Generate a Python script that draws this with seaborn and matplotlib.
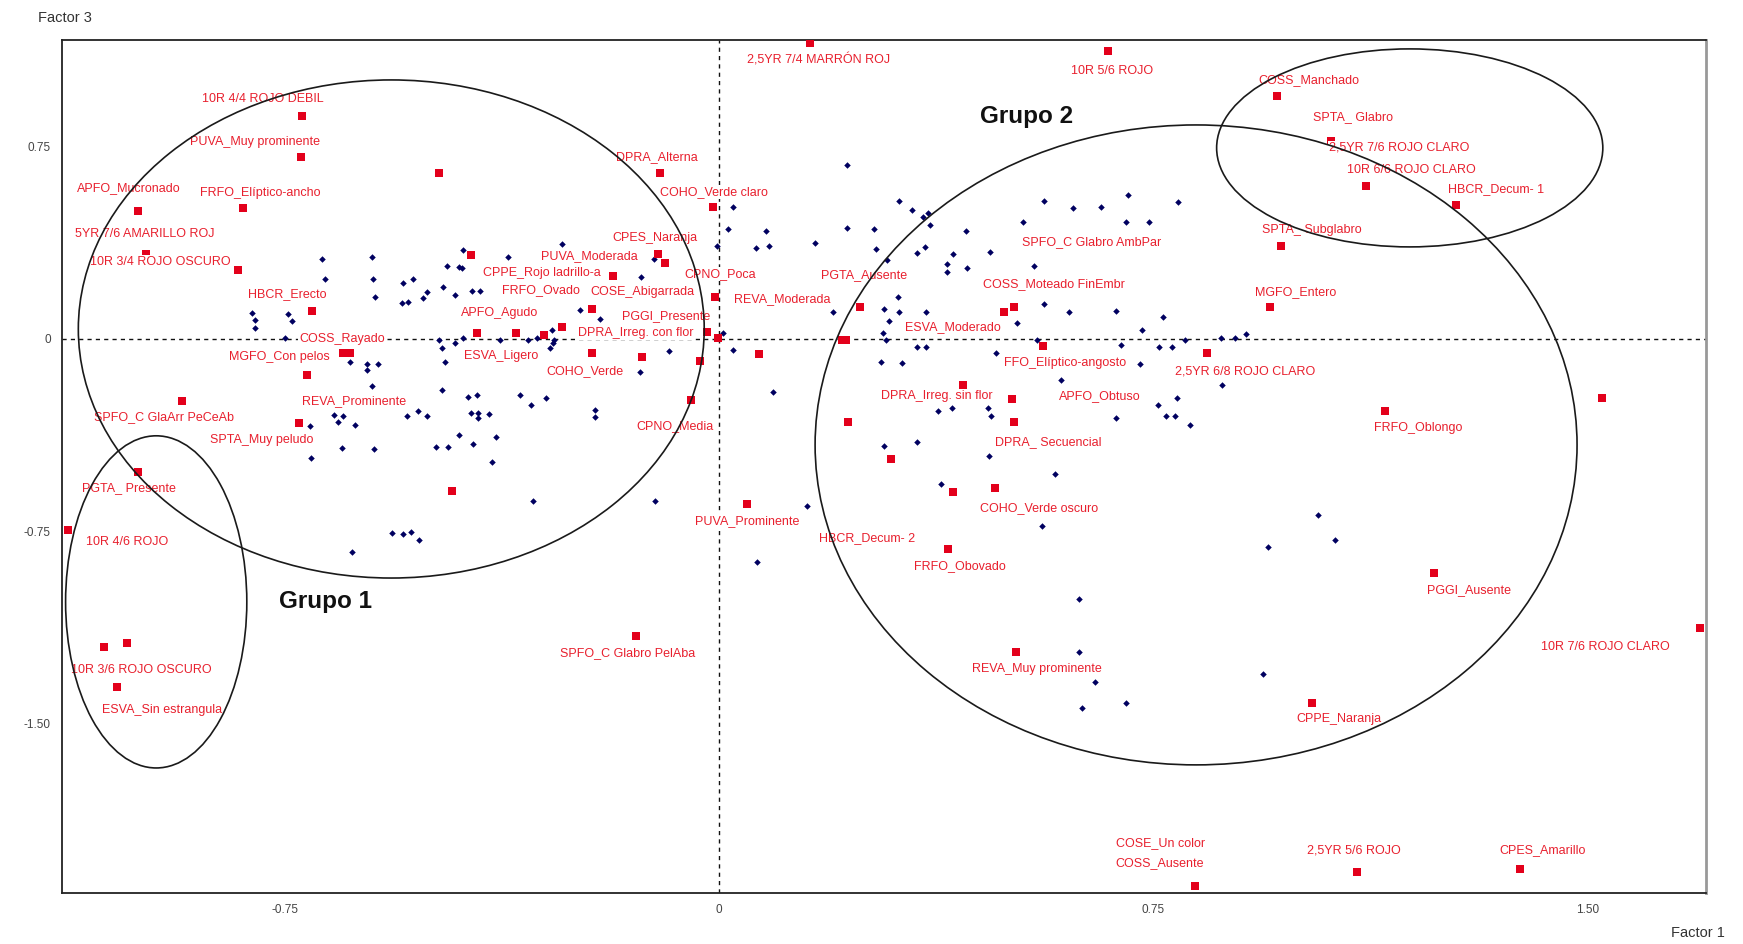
import numpy as np
import pandas as pd
import matplotlib
matplotlib.use("Agg")
import matplotlib.pyplot as plt
from matplotlib.patches import Ellipse
import seaborn as sns

# Individuals: coordinates on factor 1 (x) and factor 3 (y)
ind_f1 = [-0.686, -0.680, -0.599, -0.598, -0.594, -0.470, -0.477, -0.546, -0.528, -0.547,
          -0.537, -0.511, -0.504, -0.807, -0.801, -0.801, -0.744, -0.737, -0.750, -0.484,
          -0.271, -0.442, -0.364, -0.449, -0.444, -0.456, -0.427, -0.413, -0.240, -0.206,
          -0.112, -0.135, 0.024, 0.016, 0.081, -0.003, 0.064, 0.086, 0.166, 0.221,
          0.221, 0.197, -0.288, -0.285, -0.456, -0.442, -0.378, -0.330, -0.314, 0.007,
          0.311, 0.333, 0.352, 0.361, 0.364, 0.268, 0.427, 0.271, 0.356, 0.342,
          0.404, 0.468, 0.561, 0.611, 0.660, 0.706, 0.793, 0.525, 0.703, 0.743,
          0.394, 0.394, 0.428, 0.544, 0.290, 0.309, 0.285, 0.311, 0.357, 0.294,
          0.283, 0.288, 0.515, 0.561, 0.604, 0.686, 0.767, 0.731, 0.805, 0.867,
          0.891, 0.910, 0.549, 0.342, 0.357, 0.694, 0.760, 0.782, 0.280, 0.316,
          0.478, 0.727, 0.591, 0.791, 0.869, 0.758, 0.772, 0.788, 0.813, 0.686,
          0.378, 0.402, 0.465, 0.470, 0.285, 0.342, 0.466, 0.580, 0.383, 0.558,
          0.622, 0.152, 1.035, 0.948, 1.064, 0.622, 0.649, 0.627, 0.703, 0.940,
          -0.478, -0.473, -0.287, -0.292, -0.086, -0.136, 0.024, 0.093, -0.478, -0.433,
          -0.418, -0.344, -0.299, -0.325, -0.520, -0.539, -0.504, -0.428, -0.416, -0.416,
          -0.397, -0.214, -0.214, -0.449, -0.385, -0.489, -0.468, -0.425, -0.392, -0.321,
          -0.111, 0.066, -0.546, -0.532, -0.518, -0.637, -0.608, -0.589, -0.608, -0.599,
          -0.665, -0.658, -0.649, -0.629, -0.706, -0.651, -0.596, -0.705, -0.565, -0.634]
ind_f3 = [0.312, 0.234, 0.320, 0.234, 0.164, 0.285, 0.203, 0.218, 0.234, 0.140,
          0.144, 0.160, 0.183, 0.101, 0.074, 0.043, 0.097, 0.070, 0.004, -0.004,
          0.370, 0.347, 0.320, 0.281, 0.277, 0.172, 0.187, 0.187, 0.113, 0.078,
          0.312, 0.242, 0.515, 0.429, 0.421, 0.363, 0.355, 0.363, 0.374, 0.678,
          0.433, 0.105, 0.035, -0.004, -0.016, 0.004, -0.004, -0.004, 0.004, 0.023,
          0.538, 0.503, 0.476, 0.491, 0.444, 0.429, 0.421, 0.351, 0.359, 0.335,
          0.331, 0.339, 0.538, 0.511, 0.515, 0.561, 0.534, 0.456, 0.456, 0.456,
          0.292, 0.261, 0.277, 0.285, 0.308, 0.164, 0.117, 0.105, 0.105, 0.070,
          0.023, -0.004, 0.062, 0.136, 0.105, 0.109, 0.086, 0.035, -0.004, 0.004,
          0.004, 0.019, -0.004, -0.031, -0.031, -0.023, -0.031, -0.031, -0.090, -0.094,
          -0.055, -0.097, -0.160, -0.230, -0.179, -0.257, -0.300, -0.300, -0.335, -0.308,
          -0.281, -0.269, -0.269, -0.300, -0.417, -0.402, -0.456, -0.526, -0.565, -0.729,
          -1.014, -0.651, -0.686, -0.811, -0.784, -1.220, -1.337, -1.439, -1.419, -1.306,
          -0.035, -0.090, -0.016, -0.035, -0.047, -0.129, -0.043, -0.207, -0.199, -0.226,
          -0.218, -0.218, -0.230, -0.257, -0.281, -0.300, -0.300, -0.289, -0.289, -0.308,
          -0.292, -0.277, -0.304, -0.374, -0.382, -0.421, -0.421, -0.409, -0.480, -0.632,
          -0.632, -0.869, -0.760, -0.753, -0.784, -0.090, -0.097, -0.097, -0.121, -0.183,
          -0.296, -0.324, -0.300, -0.335, -0.339, -0.425, -0.429, -0.464, -0.756, -0.830]

# Modalities (active categories); empty name = unlabelled point
mod_names = ["10R 4/4 ROJO DEBIL", "PUVA_Muy prominente", "", "APFO_Mucronado",
             "FRFO_Elíptico-ancho", "5YR 7/6 AMARILLO ROJ", "10R 3/4 ROJO OSCURO", "HBCR_Erecto",
             "COSS_Rayado", "", "MGFO_Con pelos", "REVA_Prominente",
             "SPTA_Muy peludo", "SPFO_C GlaArr PeCeAb", "PGTA_ Presente", "10R 4/6 ROJO",
             "", "10R 3/6 ROJO OSCURO", "ESVA_Sin estrangula", "2,5YR 7/4 MARRÓN ROJ",
             "DPRA_Alterna", "COHO_Verde claro", "CPES_Naranja", "PUVA_Moderada",
             "CPPE_Rojo ladrillo-a", "CPNO_Poca", "REVA_Moderada", "FRFO_Ovado",
             "COSE_Abigarrada", "APFO_Agudo", "PGGI_Presente", "DPRA_Irreg. con flor",
             "ESVA_Ligero", "COHO_Verde", "CPNO_Media", "PUVA_Prominente",
             "SPFO_C Glabro PelAba", "", "", "",
             "", "", "10R 5/6 ROJO", "PGTA_Ausente",
             "COSS_Moteado FinEmbr", "SPFO_C Glabro AmbPar", "ESVA_Moderado", "",
             "FFO_Elíptico-angosto", "2,5YR 6/8 ROJO CLARO", "DPRA_Irreg. sin flor", "APFO_Obtuso",
             "DPRA_ Secuencial", "", "", "HBCR_Decum- 2",
             "COHO_Verde oscuro", "FRFO_Obovado", "REVA_Muy prominente", "COSS_Ausente",
             "COSE_Un color", "COSS_Manchado", "SPTA_ Glabro", "10R 6/6 ROJO CLARO",
             "2,5YR 7/6 ROJO CLARO", "HBCR_Decum- 1", "SPTA_ Subglabro", "MGFO_Entero",
             "FRFO_Oblongo", "", "PGGI_Ausente", "10R 7/6 ROJO CLARO",
             "CPPE_Naranja", "2,5YR 5/6 ROJO", "CPES_Amarillo"]
mod_f1 = [-0.720, -0.722, -0.484, -1.003, -0.822, -0.990, -0.831, -0.703,
          -0.637, -0.649, -0.712, -0.725, -0.725, -0.927, -1.003, -1.124,
          -1.062, -1.022, -1.040, 0.157, -0.102, -0.010, -0.105, -0.093,
          -0.183, -0.007, -0.002, -0.271, -0.219, -0.418, -0.021, -0.302,
          -0.351, -0.219, -0.048, 0.048, -0.143, -0.428, -0.133, -0.033,
          0.069, -0.461, 0.672, 0.244, 0.492, 0.509, 0.212, 0.219,
          0.560, 0.843, 0.421, 0.506, 0.509, 0.223, 0.297, 0.404,
          0.477, 0.395, 0.513, 0.822, 0.822, 0.964, 1.057, 1.117,
          1.117, 1.273, 0.971, 0.952, 1.150, 1.525, 1.235, 1.694,
          1.024, 1.102, 1.383]
mod_f3 = [0.869, 0.710, 0.647, 0.499, 0.511, 0.331, 0.269, 0.109,
          -0.055, -0.055, -0.140, -0.328, -0.328, -0.242, -0.519, -0.745,
          -1.201, -1.185, -1.357, 1.154, 0.647, 0.515, 0.331, 0.296,
          0.246, 0.164, 0.004, 0.047, 0.117, 0.023, 0.027, 0.016,
          0.023, -0.055, -0.238, -0.643, -1.158, 0.328, -0.070, -0.086,
          -0.058, -0.593, 1.123, 0.125, 0.105, 0.125, -0.004, -0.004,
          -0.027, -0.055, -0.179, -0.234, -0.324, -0.324, -0.468, -0.597,
          -0.581, -0.819, -1.220, -2.133, -2.133, 0.947, 0.772, 0.597,
          0.597, 0.523, 0.363, 0.125, -0.281, -0.230, -0.912, -1.127,
          -1.419, -2.078, -2.067]

# Label placement relative to each square, in pixels (right, down)
lab_dx = [-39, -46, 0, -9, 17, -1, -78, -25, -8, 0, -27, 55, -38, -18, -9, 59,
          0, 14, 45, 9, -3, 1, -3, -76, -71, 5, 64, -21, 50, 23, -41, 92,
          -15, -7, -16, 0, -9, 0, 0, 0, 0, 0, 4, 4, 50, 78, 111, 0,
          22, 38, -26, 88, 35, 0, 0, -86, 44, 12, 21, -35, -34, 32, 22, 46,
          33, 40, 31, 25, 33, 0, 35, -94, 27, -3, 23]
lab_dy = [-17, -15, 0, -23, -15, -20, -8, -17, -14, 0, -18, -22, 17, 16, 16, 12,
          0, 27, 23, 17, -16, -15, -16, -7, -3, -23, -39, -37, -17, -20, -16, -2,
          23, 18, 26, 17, 17, 0, 0, 0, 0, 0, 20, -32, -28, -65, -13, 0,
          17, 18, 11, -3, 20, 0, 0, 46, 20, 17, 17, -23, -43, -16, -24, -16,
          -38, -16, -16, -15, 17, 0, 17, 19, 16, -21, -19]

# Group ellipses: centre (f1, f3), width, height
grp_cx = [-0.566, -0.972, 0.824, 1.193]
grp_cy = [0.039, -1.025, -0.413, 0.745]
grp_w = [1.081, 0.313, 1.316, 0.667]
grp_h = [1.942, 1.295, 2.495, 0.772]

grp_names = ["Grupo 1", "Grupo 2"]
grp_text_f1 = [-0.680, 0.532]
grp_text_f3 = [-1.025, 0.869]

x_ticks = [-0.75, 0.0, 0.75, 1.50]
x_ticklabels = ["-0.75", "0", "0.75", "1.50"]
y_ticks = [0.75, 0.0, -0.75, -1.50]
y_ticklabels = ["0.75", "0", "-0.75", "-1.50"]

sns.set_style("white")
plt.rcParams["font.family"] = ["Liberation Sans", "DejaVu Sans"]

W, H = 1743, 944
fig = plt.figure(figsize=(W / 100, H / 100), dpi=100)
ax = fig.add_axes([62 / W, 1 - 893 / H, (1706 - 62) / W, (893 - 40) / H])
ax.set_xlim(-1.1347, 1.7047)
ax.set_ylim(-2.160, 1.1657)

# reference axes through the origin
ax.axhline(0, color="#111111", lw=1.0, ls=(0, (3, 3)), zorder=1)
ax.axvline(0, color="#111111", lw=1.0, ls=(0, (3, 3)), zorder=1)

ind = pd.DataFrame({"f1": ind_f1, "f3": ind_f3})
sns.scatterplot(data=ind, x="f1", y="f3", marker="D", s=11, color="#000060",
                linewidth=0, ax=ax, zorder=2)

mod = pd.DataFrame({"name": mod_names, "f1": mod_f1, "f3": mod_f3,
                    "dx": lab_dx, "dy": lab_dy})
sns.scatterplot(data=mod, x="f1", y="f3", marker="s", s=34, color="#e3001b",
                linewidth=0, ax=ax, zorder=3)

for _, r in mod.iterrows():
    if not r["name"]:
        continue
    ax.annotate(r["name"], (r["f1"], r["f3"]), xytext=(r["dx"], -r["dy"]),
                textcoords="offset pixels", ha="center", va="center",
                fontsize=9, color="#e8202e", zorder=4,
                bbox=dict(facecolor="white", edgecolor="none", pad=0.6))

for cx, cy, w, h in zip(grp_cx, grp_cy, grp_w, grp_h):
    ax.add_patch(Ellipse((cx, cy), w, h, fill=False, edgecolor="#1a1a1a",
                         lw=1.2, zorder=5))

for name, gx, gy in zip(grp_names, grp_text_f1, grp_text_f3):
    ax.text(gx, gy, name, ha="center", va="center", fontsize=17.5,
            fontweight="bold", color="#111111", zorder=6)

ax.set_xticks(x_ticks)
ax.set_xticklabels(x_ticklabels)
ax.set_yticks(y_ticks)
ax.set_yticklabels(y_ticklabels)
ax.tick_params(axis="both", direction="inout", length=8, width=1.0,
               color="#333333", labelsize=8.5, labelcolor="#444444", pad=4)
ax.set_xlabel("")
ax.set_ylabel("")

for side in ["left", "bottom", "top"]:
    ax.spines[side].set_color("#222222")
    ax.spines[side].set_linewidth(1.3)
ax.spines["right"].set_color("#999999")
ax.spines["right"].set_linewidth(2.0)

fig.text(38 / W, 1 - 18 / H, "Factor 3", ha="left", va="center",
         fontsize=10.5, color="#333333")
fig.text(1725 / W, 1 - 933 / H, "Factor 1", ha="right", va="center",
         fontsize=10.5, color="#333333")

fig.savefig("out.png", dpi=100, facecolor="white")
